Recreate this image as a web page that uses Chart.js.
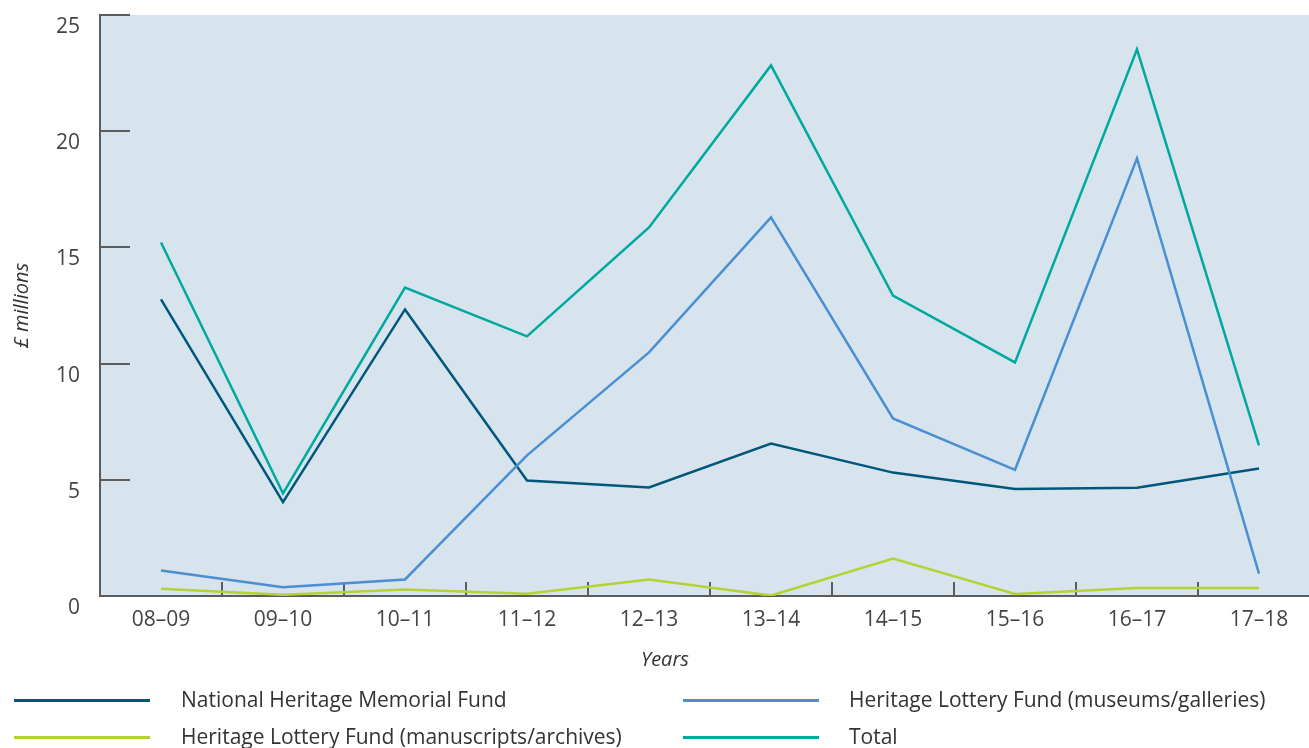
<!DOCTYPE html>
<html><head><meta charset="utf-8">
<script src="https://cdn.jsdelivr.net/npm/chart.js@4"></script>
<style>
html,body{margin:0;padding:0;overflow:hidden;background:#fff;width:1309px;height:748px;position:relative;}
#wrap{position:absolute;left:0;top:0;width:1320px;height:748px;}
.lg{position:absolute;font-family:'Open Sans',sans-serif;font-size:21px;color:#333;line-height:26px;white-space:nowrap;}
.sw{position:absolute;height:3px;}
#years{position:absolute;left:641px;top:646px;font-family:'Open Sans',sans-serif;font-style:italic;font-size:20px;color:#333;line-height:26px;}
</style></head>
<body>
<div id="wrap"><canvas id="c" width="1320" height="748"></canvas></div>
<div id="legend"></div>
<div id="years">Years</div>
<script>
const categories = ['08–09','09–10','10–11','11–12','12–13','13–14','14–15','15–16','16–17','17–18'];
const nhmf       = [12.76, 4.04, 12.33, 4.97, 4.67, 6.56, 5.31, 4.60, 4.66, 5.49];
const hlfMuseums = [1.10, 0.38, 0.71, 6.05, 10.48, 16.29, 7.64, 5.43, 18.83, 0.96];
const hlfManus   = [0.31, 0.05, 0.28, 0.10, 0.71, 0.02, 1.61, 0.09, 0.34, 0.34];
const total      = [15.21, 4.42, 13.27, 11.17, 15.86, 22.83, 12.93, 10.05, 23.52, 6.48];
const yTicks     = [0, 5, 10, 15, 20, 25];
const seriesNames = ['National Heritage Memorial Fund','Heritage Lottery Fund (museums/galleries)','Heritage Lottery Fund (manuscripts/archives)','Total'];
const colors = {nhmf:'#00577a', mus:'#4a8fd2', man:'#b3d335', tot:'#00a99d'};
const axisColor = '#5b5c5e';

const deco = {
  id:'deco',
  beforeDraw(chart){
    const {ctx, chartArea:a} = chart;
    ctx.save();
    ctx.fillStyle = '#d7e4ee';
    ctx.fillRect(a.left, a.top, a.right-a.left, a.bottom-a.top);
    ctx.restore();
  },
  beforeDatasetsDraw(chart){
    const {ctx, chartArea:a, scales} = chart;
    ctx.save();
    ctx.strokeStyle = axisColor; ctx.lineWidth = 2;
    scales.y.ticks.forEach(t => {
      const y = Math.round(scales.y.getPixelForValue(t.value));
      ctx.beginPath(); ctx.moveTo(a.left, y); ctx.lineTo(a.left+30, y); ctx.stroke();
    });
    const n = categories.length;
    for (let i=0;i<=n;i++){
      const x = Math.round(scales.x.left + i*(scales.x.width/n));
      ctx.beginPath(); ctx.moveTo(x, a.bottom); ctx.lineTo(x, a.bottom-14); ctx.stroke();
    }
    ctx.restore();
  }
};

const mk = (label, data, color) => ({label, data, borderColor: color, backgroundColor: color, borderWidth: 2.5, pointRadius: 0, tension: 0, fill: false});

new Chart(document.getElementById('c'), {
  type:'line',
  data:{
    labels: categories,
    datasets:[
      mk(seriesNames[3], total, colors.tot),
      mk(seriesNames[1], hlfMuseums, colors.mus),
      mk(seriesNames[0], nhmf, colors.nhmf),
      mk(seriesNames[2], hlfManus, colors.man)
    ]
  },
  options:{
    responsive:false, animation:false, devicePixelRatio:1,
    layout:{padding:{top:15,left:0,right:0,bottom:92}},
    plugins:{legend:{display:false}, tooltip:{enabled:false}},
    scales:{
      x:{
        type:'category', offset:true,
        grid:{drawOnChartArea:false, drawTicks:false},
        border:{display:true, color:axisColor, width:2},
        ticks:{color:'#444', font:{family:'Open Sans', size:21}, padding:11, maxRotation:0, autoSkip:false},
        afterFit(s){ s.height = 60; s.paddingLeft = 0; s.paddingRight = 0; }
      },
      y:{
        min:0, max:25,
        afterBuildTicks(s){ s.ticks = yTicks.map(v=>({value:v})); },
        grid:{drawOnChartArea:false, drawTicks:false},
        border:{display:true, color:axisColor, width:2},
        ticks:{color:'#444', font:{family:'Open Sans', size:21}, padding:20, labelOffset:12},
        title:{display:true, text:'£ millions', color:'#333', font:{family:'Open Sans', size:20, style:'italic'}, padding:{top:10,bottom:0}},
        afterFit(s){ s.width = 100; s.paddingTop = 0; s.paddingBottom = 0; }
      }
    }
  },
  plugins:[deco]
});

const legendItems = [
  {name:seriesNames[0], color:colors.nhmf, lx:14, tx:181, cy:700},
  {name:seriesNames[2], color:colors.man, lx:14, tx:181, cy:737},
  {name:seriesNames[1], color:colors.mus, lx:683, tx:849, cy:700},
  {name:seriesNames[3], color:colors.tot, lx:683, tx:849, cy:737}
];
const lg = document.getElementById('legend');
legendItems.forEach(it => {
  const s = document.createElement('div'); s.className='sw';
  s.style.left = it.lx+'px'; s.style.top=(it.cy-1.5)+'px'; s.style.width='136px'; s.style.background=it.color;
  lg.appendChild(s);
  const t = document.createElement('div'); t.className='lg'; t.textContent = it.name;
  t.style.left = it.tx+'px'; t.style.top = (it.cy-14)+'px';
  lg.appendChild(t);
});
</script>
</body></html>
